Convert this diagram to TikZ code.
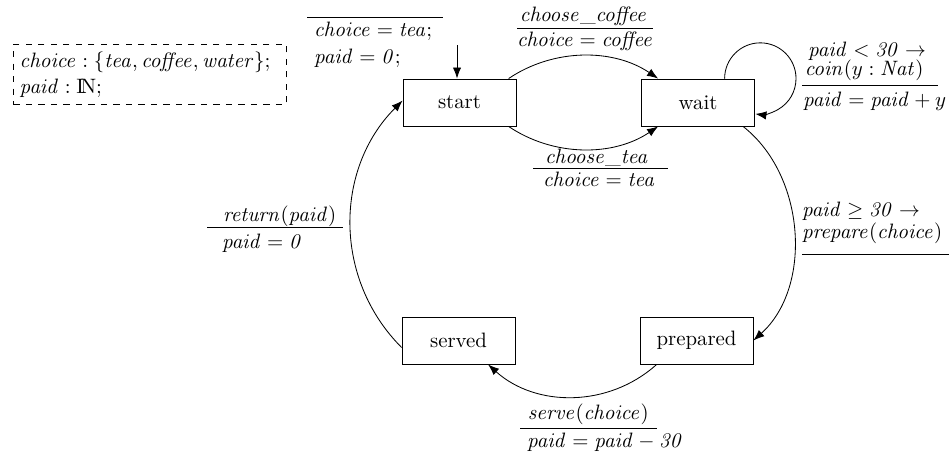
\documentclass[tikz,border=0pt]{standalone}
\usepackage{array}
\usetikzlibrary{arrows.meta}

% italic identifiers in formulas
\newcommand\mi[1]{\mathit{#1}}
% one unbreakable line of a transition label, indented by #1
\newcommand\tline[2]{\hspace*{#1}\mbox{$#2$}}
% transition label: a fixed-width column, the rule is drawn with \hline
\newcommand\tlbl[2]{\begin{tabular}{@{}p{#1}@{}}#2\end{tabular}}

\tikzset{
  state/.style={draw, rectangle, minimum width=54.2pt, minimum height=22.6pt, inner sep=0pt},
  translabel/.style={inner sep=0pt, outer sep=0pt, anchor=north west},
  edge/.style={-{Latex[length=5.3pt,width=4pt]}},
  decl/.style={draw, dashed, anchor=north west, text width=125pt, minimum height=28.8pt,
    inner xsep=3pt, inner ysep=0pt, align=left},
}

\begin{document}
\begin{tikzpicture}[x=0.48pt, y=0.48pt]
  \useasboundingbox (0,0) rectangle (950,-457);

  % variable declarations
  \node[decl] (vars) at (13,-44)
    {$\mi{choice} : \{\mi{tea}, \mi{coffee}, \mi{water}\};$\\[0.5pt]
     $\mi{paid} : \mathrm{I\!N};$};

  % states
  \node[state] (start)    at (459.5,-102.5) {start};
  \node[state] (wait)     at (698,-102.5)   {wait};
  \node[state] (prepared) at (696.5,-340.5) {prepared};
  \node[state] (served)   at (458.5,-340.5) {served};

  % initial transition
  \coordinate (init) at (457,-45);
  \draw[edge] (init) -- (init |- start.north);
  \node[translabel] (lblinit) at (307,-17.1)
    {\tlbl{65.28pt}{\hline
      \tline{3.4pt}{\mi{choice} = \mi{tea};}\rule{0pt}{8.8pt}\\[1pt]
      \tline{3.4pt}{\mi{paid} = \mi{0};}}};

  % transitions
  \draw[edge] (start.26) to[out=34,in=146,looseness=0.93] (wait.149);
  \draw[edge] (start.-26) to[out=-34,in=-146,looseness=0.93] (wait.-149);
  \draw[edge] (wait.42) arc[start angle=180, end angle=-98, radius=35.7];
  \draw[edge] (wait.-28) to[out=-38,in=42,looseness=0.95] (prepared.east);
  \draw[edge] (prepared.211) to[out=-138,in=-42,looseness=0.98] (served.-39.5);
  \draw[edge] (served.187.6) to[out=135,in=-135,looseness=1] (start.178);

  % transition labels
  \node[translabel] (lblcoffee) at (517,-4.2)
    {\tlbl{65.28pt}{\tline{1.4pt}{\mi{choose\_coffee}}\\[-0.6pt]\hline
      \tline{0pt}{\mi{choice} = \mi{coffee}}}};
  \node[translabel] (lbltea) at (533,-145.8)
    {\tlbl{64.8pt}{\tline{5.8pt}{\mi{choose\_tea}}\\[-1.4pt]\hline
      \tline{4.8pt}{\mi{choice} = \mi{tea}}}};
  \node[translabel] (lblcoin) at (802,-39.2)
    {\tlbl{65.28pt}{\tline{2.9pt}{\mi{paid} < \mi{30} \rightarrow}\\[-2.74pt]
      \tline{1.4pt}{\mi{coin}(y : \mi{Nat})}\\[0.5pt]\hline
      \tline{0.5pt}{\mi{paid} = \mi{paid} + y}\rule{0pt}{10.36pt}}};
  \node[translabel] (lblprepare) at (802,-199.2)
    {\tlbl{70.56pt}{\tline{0pt}{\mi{paid} \geq \mi{30} \rightarrow}\\[-1.63pt]
      \tline{0pt}{\mi{prepare}(\mi{choice})}\\[3.74pt]\hline}};
  \node[translabel] (lblreturn) at (207,-204.2)
    {\tlbl{65.28pt}{\tline{7.7pt}{\mi{return}(\mi{paid})}\\[-1.1pt]\hline
      \tline{7.2pt}{\mi{paid} = \mi{0}}\rule{0pt}{9.74pt}}};
  \node[translabel] (lblserve) at (520,-401.8)
    {\tlbl{65.76pt}{\tline{3.8pt}{\mi{serve}(\mi{choice})}\\[0.5pt]\hline
      \tline{3.4pt}{\mi{paid} = \mi{paid} - \mi{30}}\rule{0pt}{9.26pt}}};
\end{tikzpicture}
\end{document}
